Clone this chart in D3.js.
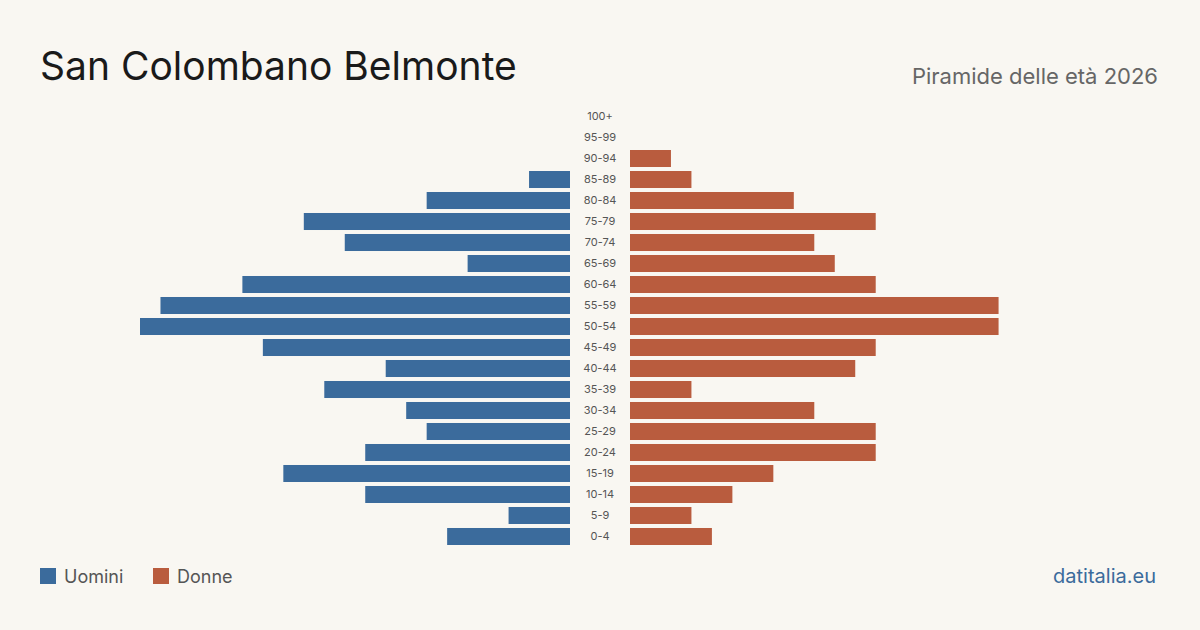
<!DOCTYPE html>
<html><head><meta charset="utf-8">
<script src="https://cdn.jsdelivr.net/npm/d3@7"></script>
<style>body{margin:0;background:#f9f7f2;font-family:Inter,"Noto Sans",sans-serif}</style>
</head><body>
<script>
const width = 1200, height = 630;
const ages = ["100+","95-99","90-94","85-89","80-84","75-79","70-74","65-69","60-64","55-59","50-54","45-49","40-44","35-39","30-34","25-29","20-24","15-19","10-14","5-9","0-4"];
const men =   [0,0,0,2,7,13,11,5,16,20,21,15,9,12,8,7,10,14,10,3,6];
const women = [0,0,2,3,8,12,9,10,12,18,18,12,11,3,9,12,12,7,5,3,4];

const svg = d3.select("body").append("svg").attr("width", width).attr("height", height);

const y = d3.scaleBand().domain(ages).range([108, 545]).paddingInner(0.19);
const xl = d3.scaleLinear().domain([0, 21]).range([570, 140]);
const xr = d3.scaleLinear().domain([0, 21]).range([630, 1060]);

svg.append("g").selectAll("rect").data(ages).join("rect")
  .attr("x", (d, i) => xl(men[i])).attr("y", d => y(d))
  .attr("width", (d, i) => xl(0) - xl(men[i])).attr("height", y.bandwidth())
  .attr("fill", "#3b6b9c");
svg.append("g").selectAll("rect").data(ages).join("rect")
  .attr("x", xr(0)).attr("y", d => y(d))
  .attr("width", (d, i) => xr(women[i]) - xr(0)).attr("height", y.bandwidth())
  .attr("fill", "#b95c3e");
svg.append("g").selectAll("text").data(ages).join("text")
  .attr("x", 600).attr("y", d => y(d) + y.bandwidth() / 2).attr("dy", "0.35em")
  .attr("text-anchor", "middle").attr("font-size", 11).attr("fill", "#555").text(d => d);

svg.append("text").attr("x", 40).attr("y", 80).attr("font-size", 39).attr("fill", "#1a1a1a").text("San Colombano Belmonte");
svg.append("text").attr("x", 1158).attr("y", 84).attr("text-anchor", "end").attr("font-size", 22).attr("fill", "#666").text("Piramide delle età 2026");

const leg = [["Uomini", "#3b6b9c", 40], ["Donne", "#b95c3e", 153]];
leg.forEach(([t, c, x]) => {
  svg.append("rect").attr("x", x).attr("y", 568).attr("width", 16).attr("height", 16).attr("fill", c);
  svg.append("text").attr("x", x + 24).attr("y", 583).attr("font-size", 18).attr("fill", "#555").text(t);
});
svg.append("text").attr("x", 1156).attr("y", 583).attr("text-anchor", "end").attr("font-size", 20).attr("fill", "#3b6b9c").text("datitalia.eu");
</script>
</body></html>
